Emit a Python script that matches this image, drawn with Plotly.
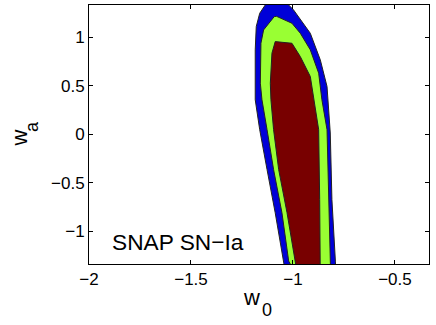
import plotly.graph_objects as go

# Axis ticks
x_ticks = [-2, -1.5, -1, -0.5]
x_tick_labels = ["\u22122", "\u22121.5", "\u22121", "\u22120.5"]
y_ticks = [-1, -0.5, 0, 0.5, 1]
y_tick_labels = ["\u22121", "\u22120.5", "0", "0.5", "1"]

# Outer (blue) confidence contour
blue_w0 = [-1.034, -1.046, -1.087, -1.127, -1.163, -1.185, -1.185, -1.180, -1.163, -1.136, -1.12, -1.03,
           -1.021, -0.997, -0.915, -0.866, -0.833, -0.817, -0.809, -0.792, -0.789]
blue_wa = [-1.459, -1.305, -0.808, -0.363, 0.048, 0.356, 0.870, 1.110, 1.247, 1.332, 1.40, 1.40,
           1.332, 1.281, 1.041, 0.767, 0.493, 0.014, -0.671, -1.305, -1.459]

# Middle (green) confidence contour
green_w0 = [-0.980, -1.021, -1.054, -1.095, -1.127, -1.152, -1.160, -1.157, -1.144, -1.111, -1.092,
            -1.080, -1.005, -0.964, -0.915, -0.874, -0.858, -0.833, -0.825, -0.817, -0.815]
green_wa = [-1.459, -1.305, -0.808, -0.363, 0.048, 0.356, 0.527, 0.938, 1.075, 1.161, 1.212,
            1.215, 1.144, 1.041, 0.870, 0.630, 0.356, 0.048, -0.671, -1.305, -1.459]

# Inner (dark red) confidence contour
red_w0 = [-0.977, -0.989, -1.029, -1.070, -1.095, -1.108, -1.111, -1.103, -1.087,
          -1.005, -0.964, -0.915, -0.891, -0.874, -0.869, -0.866, -0.866]
red_wa = [-1.459, -1.305, -0.808, -0.363, 0.048, 0.356, 0.527, 0.836, 0.955,
          0.938, 0.801, 0.596, 0.253, 0.048, -0.671, -1.305, -1.459]

FONT = "Liberation Sans, Arial, Helvetica, sans-serif"

L, R, T, B = 89, 429, 5, 264
W, H = 436, 325


def px(xp):
    return (xp - L) / (R - L)


def py(yp):
    return (B - yp) / (B - T)


fig = go.Figure()
for xs, ys, col in [(blue_w0, blue_wa, "#0000D8"),
                    (green_w0, green_wa, "#99FF33"),
                    (red_w0, red_wa, "#780000")]:
    fig.add_trace(go.Scatter(x=xs, y=ys, mode="lines", fill="toself", fillcolor=col,
                             line=dict(color="#222222", width=1), hoverinfo="skip",
                             showlegend=False))

fig.add_annotation(x=-1.896, y=-1.113, xref="x", yref="y", text="SNAP SN\u2212Ia",
                   showarrow=False, xanchor="left", yanchor="middle",
                   font=dict(family=FONT, size=22.7, color="black"))

# Axis titles (w_0 and w_a) as text with a lowered subscript
fig.add_annotation(x=px(251), y=py(297), xref="paper", yref="paper", text="w",
                   showarrow=False, xanchor="center", yanchor="middle",
                   font=dict(family=FONT, size=22, color="black"))
fig.add_annotation(x=px(267), y=py(310), xref="paper", yref="paper", text="0",
                   showarrow=False, xanchor="center", yanchor="middle",
                   font=dict(family=FONT, size=18, color="black"))
fig.add_annotation(x=px(19), y=py(138.5), xref="paper", yref="paper", text="w",
                   showarrow=False, xanchor="center", yanchor="middle", textangle=-90,
                   font=dict(family=FONT, size=22, color="black"))
fig.add_annotation(x=px(32), y=py(127), xref="paper", yref="paper", text="a",
                   showarrow=False, xanchor="center", yanchor="middle", textangle=-90,
                   font=dict(family=FONT, size=18, color="black"))

axis_common = dict(showline=True, linecolor="black", linewidth=1, mirror="ticks",
                   ticks="inside", ticklen=4, tickcolor="black", showgrid=False,
                   zeroline=False, automargin=False,
                   tickfont=dict(family=FONT, size=17, color="black"))

fig.update_xaxes(range=[-2, -0.333], tickvals=x_ticks, ticktext=x_tick_labels, **axis_common)
fig.update_yaxes(range=[-1.335, 1.332], tickvals=y_ticks, ticktext=y_tick_labels, **axis_common)

fig.update_layout(width=W, height=H, margin=dict(l=L, r=W - R, t=T, b=H - B),
                  plot_bgcolor="white", paper_bgcolor="white",
                  font=dict(family=FONT, color="black"))

fig.write_html("out.html", config={"displayModeBar": False, "staticPlot": True},
               post_script="document.body.style.margin='0';document.body.style.overflow='hidden';")
